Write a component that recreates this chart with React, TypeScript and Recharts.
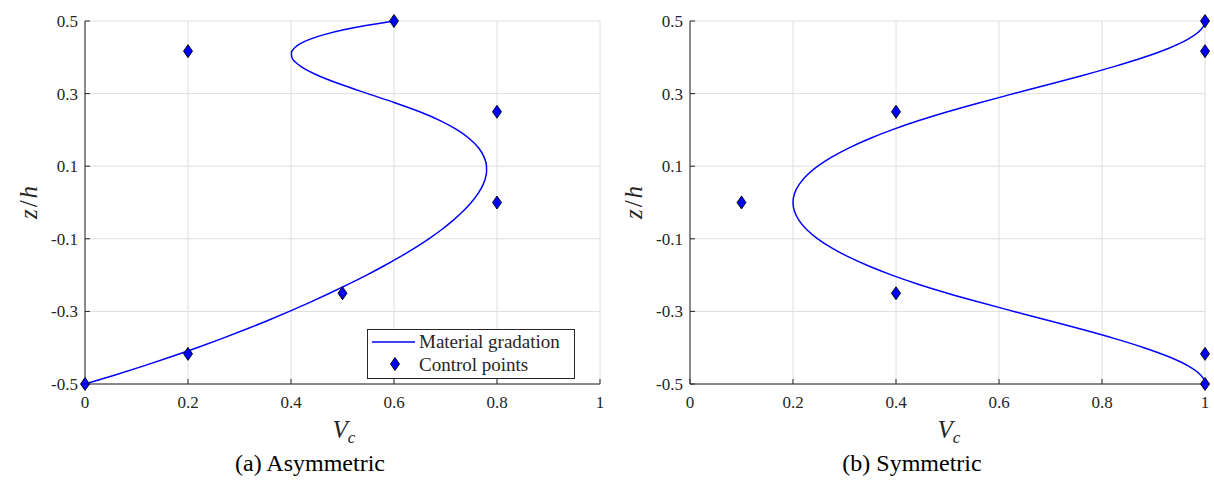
import React from 'react';
import { ComposedChart, Line, Scatter, XAxis, YAxis, CartesianGrid, Legend } from 'recharts';

// ---- data ----
const xTicks = [0, 0.2, 0.4, 0.6, 0.8, 1];
const yTicks = [-0.5, -0.3, -0.1, 0.1, 0.3, 0.5];
const xTickLabels = ['0', '0.2', '0.4', '0.6', '0.8', '1'];
const yTickLabels = ['-0.5', '-0.3', '-0.1', '0.1', '0.3', '0.5'];

// (a) Asymmetric: material gradation curve, z/h and Vc
const asymZ = [
  -0.5, -0.475, -0.45, -0.425, -0.4, -0.375, -0.35, -0.325, -0.3, -0.275, -0.25,
  -0.225, -0.2, -0.175, -0.15, -0.125, -0.1, -0.075, -0.05, -0.025, 0,
  0.025, 0.05, 0.075, 0.0875, 0.1, 0.125, 0.15, 0.175, 0.2, 0.225, 0.25,
  0.275, 0.3, 0.325, 0.35, 0.375, 0.3875, 0.4, 0.4125, 0.425, 0.4375, 0.45, 0.4625, 0.475, 0.4875, 0.5,
];
const asymV = [
  0, 0.0585, 0.1142, 0.1672, 0.2176, 0.2656, 0.3114, 0.3551, 0.3968, 0.4367, 0.475,
  0.5117, 0.5468, 0.5801, 0.6114, 0.6406, 0.6676, 0.6922, 0.7142, 0.7335, 0.75,
  0.7634, 0.7732, 0.7788, 0.7798, 0.7796, 0.775, 0.7644, 0.7472, 0.7228, 0.6906, 0.65,
  0.6014, 0.5488, 0.4975, 0.4524, 0.4188, 0.4078, 0.4016, 0.4008, 0.4061, 0.418, 0.4372, 0.4644, 0.5002, 0.5452, 0.6,
];
// (a) Asymmetric: control points
const asymCtrlV = [0, 0.2, 0.5, 0.8, 0.8, 0.2, 0.6];
const asymCtrlZ = [-0.5, -0.417, -0.25, 0, 0.25, 0.417, 0.5];

// (b) Symmetric: material gradation curve, z/h and Vc
const symZ = [
  -0.5, -0.4875, -0.475, -0.45, -0.425, -0.4, -0.375, -0.35, -0.325, -0.3, -0.275, -0.25,
  -0.225, -0.2, -0.175, -0.15, -0.125, -0.1, -0.075, -0.05, -0.025, 0,
  0.025, 0.05, 0.075, 0.1, 0.125, 0.15, 0.175, 0.2, 0.225, 0.25,
  0.275, 0.3, 0.325, 0.35, 0.375, 0.4, 0.425, 0.45, 0.475, 0.4875, 0.5,
];
const symV = [
  1, 0.9978, 0.9914, 0.9672, 0.9298, 0.8816, 0.825, 0.7624, 0.6962, 0.6288, 0.5626, 0.5,
  0.443, 0.392, 0.347, 0.308, 0.275, 0.248, 0.227, 0.212, 0.203, 0.2,
  0.203, 0.212, 0.227, 0.248, 0.275, 0.308, 0.347, 0.392, 0.443, 0.5,
  0.5626, 0.6288, 0.6962, 0.7624, 0.825, 0.8816, 0.9298, 0.9672, 0.9914, 0.9978, 1,
];
// (b) Symmetric: control points
const symCtrlV = [1, 1, 0.4, 0.1, 0.4, 1, 1];
const symCtrlZ = [-0.5, -0.417, -0.25, 0, 0.25, 0.417, 0.5];

const captions = ['(a) Asymmetric', '(b) Symmetric'];
const seriesNames = ['Material gradation', 'Control points'];

// ---- styles ----
const FONT = 'Liberation Serif, Liberation Sans, Arial, sans-serif';
const AXIS = '#262626';
const BLUE = '#0000ff';
const GRID = '#dedede';

const toRows = (vs: number[], zs: number[]) => vs.map((v, i) => ({ v, z: zs[i] }));

const fmtX = (val: number) => {
  const i = xTicks.findIndex((t) => Math.abs(t - val) < 1e-9);
  return i >= 0 ? xTickLabels[i] : String(val);
};
const fmtY = (val: number) => {
  const i = yTicks.findIndex((t) => Math.abs(t - val) < 1e-9);
  return i >= 0 ? yTickLabels[i] : String(val);
};

const Diamond = (props: any) => {
  const { cx, cy } = props;
  if (cx == null || cy == null) return <g />;
  const w = 4.5;
  const h = 6.5;
  return (
    <polygon
      points={`${cx},${cy - h} ${cx + w},${cy} ${cx},${cy + h} ${cx - w},${cy}`}
      fill={BLUE}
      stroke="#000"
      strokeWidth={0.9}
    />
  );
};

const VcLabel = (props: any) => {
  const vb = props.viewBox || {};
  const cx = vb.x + vb.width / 2;
  return (
    <text x={cx - 10} y={vb.y + 54} style={{ fontFamily: FONT }} fill={AXIS} fontSize={25} fontStyle="italic">
      <tspan>V</tspan>
      <tspan fontSize={17} dy={5}>c</tspan>
    </text>
  );
};

const ZhLabel = (props: any) => {
  const vb = props.viewBox || {};
  const x = vb.x + 12;
  const y = vb.y + vb.height / 2;
  return (
    <text
      x={x}
      y={y}
      textAnchor="middle"
      transform={`rotate(-90, ${x}, ${y})`}
      style={{ fontFamily: FONT }}
      fill={AXIS}
      fontSize={25}
    >
      <tspan fontStyle="italic">z</tspan>
      <tspan dx={2}>/</tspan>
      <tspan dx={2} fontStyle="italic">h</tspan>
    </text>
  );
};

const LegendBox = () => (
  <svg width={208} height={50} style={{ display: 'block' }}>
    <rect x={0.5} y={0.5} width={207} height={49} fill="#fff" stroke={AXIS} strokeWidth={1} />
    <line x1={5} x2={48} y1={13} y2={13} stroke={BLUE} strokeWidth={1.5} />
    <text x={52} y={19} style={{ fontFamily: FONT }} fontSize={19} fill={AXIS}>{seriesNames[0]}</text>
    <Diamond cx={28} cy={35} />
    <text x={52} y={42} style={{ fontFamily: FONT }} fontSize={19} fill={AXIS}>{seriesNames[1]}</text>
  </svg>
);

type PanelProps = { curveV: number[]; curveZ: number[]; ctrlV: number[]; ctrlZ: number[]; showLegend: boolean };

const Panel = ({ curveV, curveZ, ctrlV, ctrlZ, showLegend }: PanelProps) => {
  const tickStyle = { fill: AXIS, fontSize: 17, style: { fontFamily: FONT } } as any;
  return (
    <ComposedChart width={610} height={489} margin={{ top: 21, right: 10, left: 25, bottom: 75 }} style={{ fontFamily: FONT }}>
      <CartesianGrid stroke={GRID} strokeWidth={1} />
      <XAxis
        type="number"
        dataKey="v"
        domain={[0, 1]}
        ticks={xTicks}
        tickFormatter={fmtX}
        height={30}
        tickSize={-5}
        tickMargin={17}
        stroke={AXIS}
        tick={tickStyle}
        label={{ content: VcLabel }}
      />
      <XAxis
        xAxisId="top"
        orientation="top"
        type="number"
        domain={[0, 1]}
        ticks={xTicks}
        allowDataOverflow
        height={0}
        tickSize={-5}
        tick={false}
        stroke={AXIS}
      />
      <YAxis
        type="number"
        dataKey="z"
        domain={[-0.5, 0.5]}
        ticks={yTicks}
        tickFormatter={fmtY}
        width={60}
        tickSize={-5}
        tickMargin={12}
        stroke={AXIS}
        tick={tickStyle}
        label={{ content: ZhLabel }}
      />
      <YAxis
        yAxisId="right"
        orientation="right"
        type="number"
        domain={[-0.5, 0.5]}
        ticks={yTicks}
        allowDataOverflow
        width={0}
        tickSize={-5}
        tick={false}
        stroke={AXIS}
      />
      <Line
        data={toRows(curveV, curveZ)}
        dataKey="z"
        type="monotoneY"
        stroke={BLUE}
        strokeWidth={1.5}
        dot={false}
        activeDot={false}
        isAnimationActive={false}
        name={seriesNames[0]}
      />
      <Scatter
        data={toRows(ctrlV, ctrlZ)}
        dataKey="z"
        fill={BLUE}
        shape={Diamond}
        isAnimationActive={false}
        name={seriesNames[1]}
      />
      {showLegend && (
        <Legend
          layout="vertical"
          align="center"
          verticalAlign="middle"
          wrapperStyle={{ position: 'absolute', left: 367, top: 329, width: 208, height: 50 }}
          content={() => <LegendBox />}
        />
      )}
    </ComposedChart>
  );
};

export default function App() {
  const capStyle: React.CSSProperties = {
    position: 'absolute', top: 451, width: 400, textAlign: 'center',
    fontFamily: FONT, fontSize: 24, lineHeight: '24px', color: '#000',
  };
  return (
    <div style={{ position: 'absolute', left: 0, top: 0, width: 1214, height: 489, background: '#fff' }}>
      <div style={{ position: 'absolute', left: 0, top: 0 }}>
        <Panel curveV={asymV} curveZ={asymZ} ctrlV={asymCtrlV} ctrlZ={asymCtrlZ} showLegend={true} />
      </div>
      <div style={{ position: 'absolute', left: 605, top: 0 }}>
        <Panel curveV={symV} curveZ={symZ} ctrlV={symCtrlV} ctrlZ={symCtrlZ} showLegend={false} />
      </div>
      <div style={{ ...capStyle, left: 110 }}>{captions[0]}</div>
      <div style={{ ...capStyle, left: 712 }}>{captions[1]}</div>
    </div>
  );
}
